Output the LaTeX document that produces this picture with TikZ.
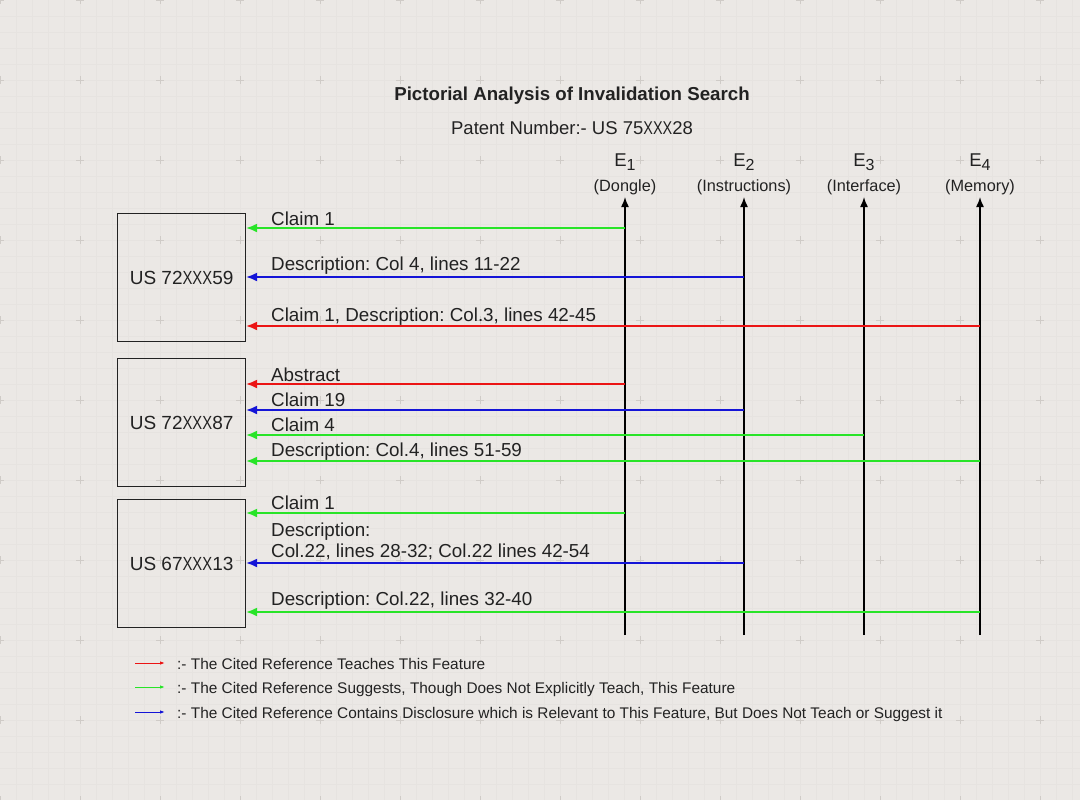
\documentclass[tikz,border=0pt]{standalone}
\usepackage{fontspec}
\usepackage{graphicx}
\setmainfont{Liberation Sans}
\usetikzlibrary{arrows.meta}
\frenchspacing
\definecolor{bgc}{HTML}{EBE8E5}
\definecolor{gridc}{HTML}{E6E3E0}
\definecolor{plusc}{HTML}{CFCBC7}
\definecolor{ink}{HTML}{222222}
\definecolor{cgreen}{RGB}{40,228,40}
\definecolor{cblue}{RGB}{20,20,215}
\definecolor{cred}{RGB}{235,20,20}
\newcommand\xxx{\scalebox{0.78}[1]{XXX}}
\newcommand\fsz[1]{\fontsize{#1}{#1}\selectfont}
\tikzset{
  refbox/.style={draw=ink, line width=1.2pt, minimum width=128pt, minimum height=128pt, anchor=north west, inner sep=0pt, text=ink, font=\fsz{19}},
  lbl/.style={anchor=base west, inner sep=0pt, text=ink, font=\fsz{18.8}},
  ehead/.style={anchor=base, inner sep=0pt, text=ink, font=\fsz{18.5}},
  esub/.style={anchor=base, inner sep=0pt, text=ink, font=\fsz{16.3}},
  vline/.style={draw=black, line width=1.5pt, -{Latex[length=10pt,width=8pt]}},
  arr/.style={line width=1.5pt, -{Latex[length=11pt,width=9pt]}},
  garr/.style={arr, draw=cgreen, color=cgreen},
  barr/.style={arr, draw=cblue, color=cblue},
  rarr/.style={arr, draw=cred, color=cred},
  legarr/.style={line width=1pt, -{Latex[length=5pt,width=3.5pt]}},
  legtxt/.style={anchor=base west, inner sep=0pt, text=ink, font=\fsz{15.4}},
}
\begin{document}
\begin{tikzpicture}[x=1pt, y=-1pt]
% background
\fill[bgc] (0,0) rectangle (1080,800);
\useasboundingbox (0,0) rectangle (1080,800);
\foreach \g in {16,32,...,1072} {\draw[gridc, line width=0.4pt] (\g,0) -- (\g,800);}
\foreach \g in {16,32,...,800} {\draw[gridc, line width=0.4pt] (0,\g) -- (1080,\g);}
\foreach \gx in {0,80,...,1080} {
  \foreach \gy in {0,80,...,800} {
    \draw[plusc, line width=0.9pt] (\gx-4,\gy) -- (\gx+4,\gy) (\gx,\gy-4) -- (\gx,\gy+4);
  }
}
% titles
\node[anchor=base, inner sep=0pt, text=ink, font=\fsz{18.7}\bfseries] (title) at (572,100) {Pictorial Analysis of Invalidation Search};
\node[anchor=base, inner sep=0pt, text=ink, font=\fsz{18.5}] (subtitle) at (572,135) {Patent Number:- US 75\xxx28};
% element headings
\node[ehead] (h1) at (625,166) {E\raisebox{-0.45ex}{\fsz{16}1}};
\node[esub] (d1) at (625,191) {(Dongle)};
\node[ehead] (h2) at (744,166) {E\raisebox{-0.45ex}{\fsz{16}2}};
\node[esub] (d2) at (744,191) {(Instructions)};
\node[ehead] (h3) at (864,166) {E\raisebox{-0.45ex}{\fsz{16}3}};
\node[esub] (d3) at (864,191) {(Interface)};
\node[ehead] (h4) at (980,166) {E\raisebox{-0.45ex}{\fsz{16}4}};
\node[esub] (d4) at (980,191) {(Memory)};
% element lines
\coordinate (e1b) at (625,635); \coordinate (e1t) at (625,197);
\coordinate (e2b) at (744,635); \coordinate (e2t) at (744,197);
\coordinate (e3b) at (864,635); \coordinate (e3t) at (864,197);
\coordinate (e4b) at (980,635); \coordinate (e4t) at (980,197);
\draw[vline] (e1b) -- (e1t);
\draw[vline] (e2b) -- (e2t);
\draw[vline] (e3b) -- (e3t);
\draw[vline] (e4b) -- (e4t);
% reference boxes
\node[refbox] (b1) at (117,213) {US 72\xxx59};
\node[refbox] (b2) at (117,358) {US 72\xxx87};
\node[refbox] (b3) at (117,499) {US 67\xxx13};
% connectors, box 1
\coordinate (s11) at (625,228);
\coordinate (s12) at (744,277);
\coordinate (s13) at (980,326);
\draw[garr] (s11) -- (s11 -| b1.east);
\draw[barr] (s12) -- (s12 -| b1.east);
\draw[rarr] (s13) -- (s13 -| b1.east);
\node[lbl] (l11) at (271,225) {Claim 1};
\node[lbl] (l12) at (271,270) {Description: Col 4, lines 11-22};
\node[lbl] (l13) at (271,321) {Claim 1, Description: Col.3, lines 42-45};
% connectors, box 2
\coordinate (s21) at (625,384);
\coordinate (s22) at (744,410);
\coordinate (s23) at (864,435);
\coordinate (s24) at (980,461);
\draw[rarr] (s21) -- (s21 -| b2.east);
\draw[barr] (s22) -- (s22 -| b2.east);
\draw[garr] (s23) -- (s23 -| b2.east);
\draw[garr] (s24) -- (s24 -| b2.east);
\node[lbl] (l21) at (271,381) {Abstract};
\node[lbl] (l22) at (271,406) {Claim 19};
\node[lbl] (l23) at (271,431) {Claim 4};
\node[lbl] (l24) at (271,456) {Description: Col.4, lines 51-59};
% connectors, box 3
\coordinate (s31) at (625,513);
\coordinate (s32) at (744,563);
\coordinate (s33) at (980,612);
\draw[garr] (s31) -- (s31 -| b3.east);
\draw[barr] (s32) -- (s32 -| b3.east);
\draw[garr] (s33) -- (s33 -| b3.east);
\node[lbl] (l31) at (271,509) {Claim 1};
\node[lbl, anchor=north west, align=left, font=\fontsize{18.8}{21.5}\selectfont] (l32) at (271,522.5) {Description:\\Col.22, lines 28-32; Col.22 lines 42-54};
\node[lbl] (l33) at (271,605) {Description: Col.22, lines 32-40};
% legend
\coordinate (g1a) at (135,663); \coordinate (g1b) at (165,663);
\coordinate (g2a) at (135,687); \coordinate (g2b) at (165,687);
\coordinate (g3a) at (135,712); \coordinate (g3b) at (165,712);
\draw[legarr, draw=cred, color=cred] (g1a) -- (g1b);
\draw[legarr, draw=cgreen, color=cgreen] (g2a) -- (g2b);
\draw[legarr, draw=cblue, color=cblue] (g3a) -- (g3b);
\node[legtxt] (t1) at (177,669) {:- The Cited Reference Teaches This Feature};
\node[legtxt] (t2) at (177,693) {:- The Cited Reference Suggests, Though Does Not Explicitly Teach, This Feature};
\node[legtxt] (t3) at (177,718) {:- The Cited Reference Contains Disclosure which is Relevant to This Feature, But Does Not Teach or Suggest it};
\end{tikzpicture}
\end{document}
